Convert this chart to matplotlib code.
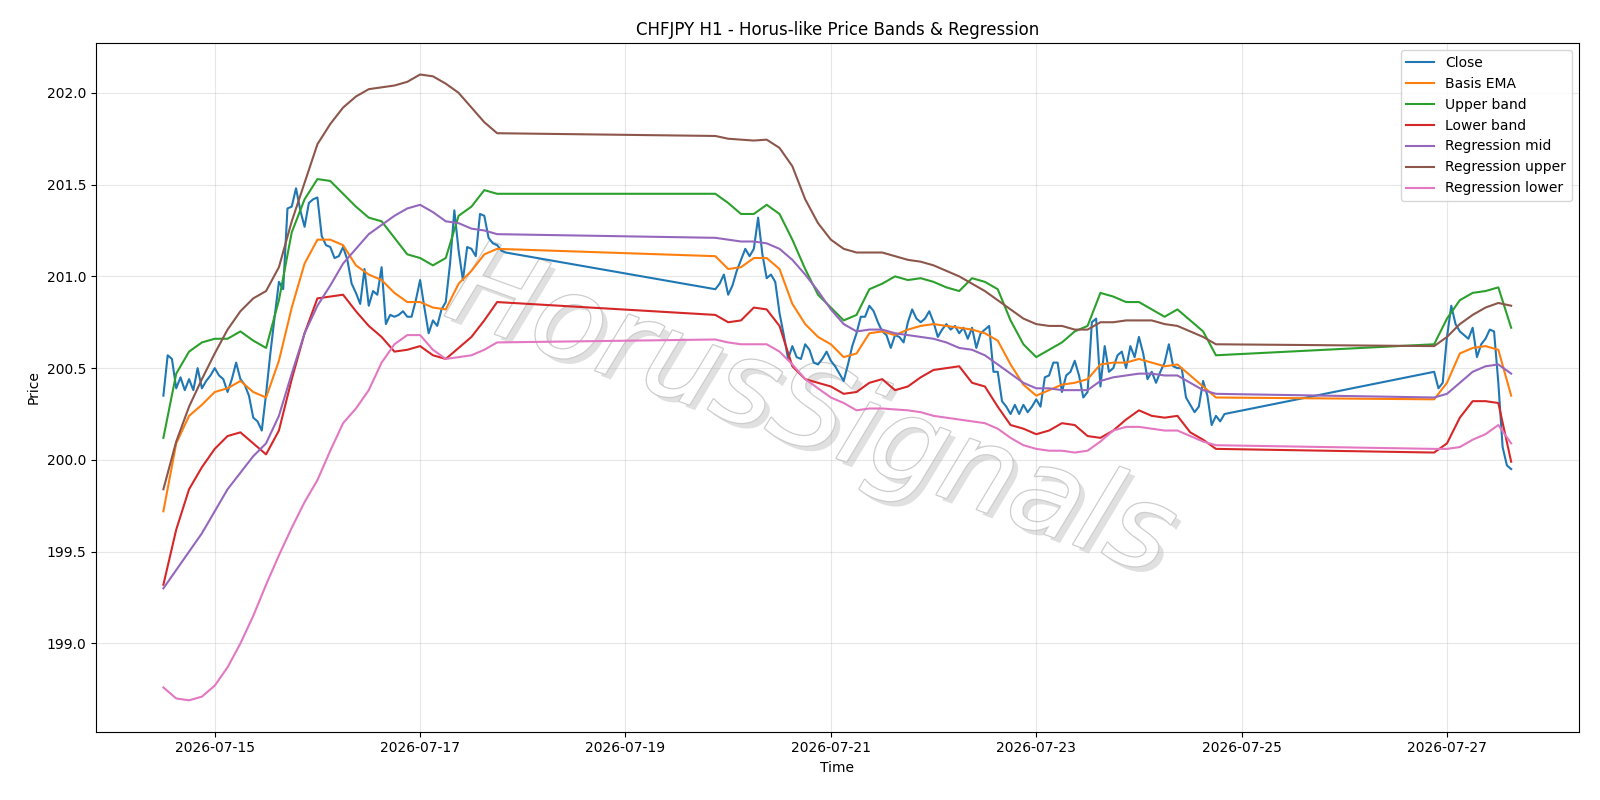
import matplotlib
matplotlib.use('Agg')
import matplotlib.pyplot as plt
import matplotlib.dates as mdates
import matplotlib.patheffects as pe
import pandas as pd

# trading stretches (weekend gaps in between)
spans = [('2026-07-14 12:00', '2026-07-17 20:00'),
         ('2026-07-19 21:00', '2026-07-24 20:00'),
         ('2026-07-26 21:00', '2026-07-27 15:00')]

# hourly close
close_a = [200.35, 200.57, 200.55, 200.39, 200.45, 200.38, 200.44, 200.38, 200.50, 200.39,
           200.43, 200.46, 200.50, 200.46, 200.44, 200.37, 200.44, 200.53, 200.44, 200.41,
           200.35, 200.23, 200.21, 200.16, 200.36, 200.58, 200.78, 200.97, 200.93, 201.37,
           201.38, 201.48, 201.36, 201.27, 201.40, 201.42, 201.43, 201.22, 201.17, 201.16,
           201.10, 201.11, 201.16, 201.09, 200.96, 200.91, 200.85, 201.04, 200.84, 200.92,
           200.90, 201.05, 200.74, 200.79, 200.78, 200.79, 200.81, 200.78, 200.78, 200.87,
           200.98, 200.83, 200.69, 200.76, 200.73, 200.82, 200.86, 201.07, 201.36, 201.14,
           200.98, 201.16, 201.15, 201.11, 201.34, 201.33, 201.21, 201.18, 201.17, 201.14, 201.13]
close_b = [200.93, 200.96, 201.01, 200.90, 200.95, 201.03, 201.09, 201.15, 201.11, 201.15,
           201.32, 201.12, 200.99, 201.01, 200.97, 200.80, 200.68, 200.55, 200.62, 200.56,
           200.55, 200.63, 200.60, 200.53, 200.52, 200.55, 200.59, 200.54, 200.51, 200.47,
           200.43, 200.52, 200.62, 200.69, 200.78, 200.78, 200.84, 200.81, 200.75, 200.70,
           200.68, 200.61, 200.68, 200.67, 200.64, 200.75, 200.82, 200.77, 200.75, 200.77,
           200.81, 200.75, 200.67, 200.71, 200.74, 200.71, 200.73, 200.69, 200.72, 200.66,
           200.72, 200.61, 200.69, 200.71, 200.73, 200.48, 200.48, 200.32, 200.29, 200.25,
           200.30, 200.25, 200.30, 200.26, 200.29, 200.33, 200.29, 200.45, 200.46, 200.53,
           200.53, 200.37, 200.46, 200.48, 200.54, 200.46, 200.34, 200.37, 200.75, 200.77,
           200.40, 200.62, 200.48, 200.50, 200.57, 200.59, 200.50, 200.62, 200.56, 200.67,
           200.58, 200.44, 200.48, 200.42, 200.48, 200.53, 200.63, 200.51, 200.50, 200.50,
           200.34, 200.30, 200.26, 200.29, 200.43, 200.35, 200.19, 200.24, 200.21, 200.25]
close_c = [200.48, 200.39, 200.42, 200.67, 200.84, 200.74, 200.70, 200.68, 200.66, 200.72,
           200.56, 200.63, 200.66, 200.71, 200.70, 200.42, 200.07, 199.97, 199.95]

# band / regression lines, read every 3 hours
ema_a = [199.72, 200.09, 200.24, 200.30, 200.37, 200.39, 200.43, 200.37, 200.34, 200.54,
         200.83, 201.07, 201.20, 201.20, 201.17, 201.06, 201.01, 200.98, 200.91, 200.86,
         200.86, 200.83, 200.82, 200.96, 201.03, 201.12, 201.15]
ema_b = [201.11, 201.04, 201.05, 201.10, 201.10, 201.04, 200.85, 200.74, 200.67, 200.63,
         200.56, 200.58, 200.69, 200.70, 200.68, 200.71, 200.73, 200.74, 200.73, 200.72,
         200.71, 200.69, 200.65, 200.52, 200.41, 200.35, 200.38, 200.41, 200.42, 200.44,
         200.52, 200.53, 200.53, 200.55, 200.53, 200.51, 200.52, 200.46, 200.40, 200.34]
ema_c = [200.33, 200.42, 200.58, 200.61, 200.62, 200.60, 200.35]

upper_a = [200.12, 200.47, 200.59, 200.64, 200.66, 200.66, 200.70, 200.65, 200.61, 200.87,
           201.24, 201.42, 201.53, 201.52, 201.45, 201.38, 201.32, 201.30, 201.21, 201.12,
           201.10, 201.06, 201.10, 201.33, 201.38, 201.47, 201.45]
upper_b = [201.45, 201.40, 201.34, 201.34, 201.39, 201.34, 201.20, 201.04, 200.90, 200.83,
           200.76, 200.79, 200.93, 200.96, 201.00, 200.98, 200.99, 200.97, 200.94, 200.92,
           200.99, 200.97, 200.93, 200.76, 200.63, 200.56, 200.60, 200.64, 200.70, 200.73,
           200.91, 200.89, 200.86, 200.86, 200.82, 200.78, 200.82, 200.76, 200.70, 200.57]
upper_c = [200.63, 200.77, 200.87, 200.91, 200.92, 200.94, 200.72]

lower_a = [199.32, 199.62, 199.84, 199.96, 200.06, 200.13, 200.15, 200.09, 200.03, 200.16,
           200.44, 200.69, 200.88, 200.89, 200.90, 200.81, 200.73, 200.67, 200.59, 200.60,
           200.62, 200.57, 200.55, 200.61, 200.67, 200.76, 200.86]
lower_b = [200.79, 200.75, 200.76, 200.83, 200.82, 200.73, 200.51, 200.44, 200.42, 200.40,
           200.36, 200.37, 200.42, 200.44, 200.38, 200.40, 200.45, 200.49, 200.50, 200.51,
           200.42, 200.40, 200.29, 200.19, 200.17, 200.14, 200.16, 200.20, 200.19, 200.13,
           200.12, 200.16, 200.22, 200.27, 200.24, 200.23, 200.24, 200.15, 200.11, 200.06]
lower_c = [200.04, 200.09, 200.23, 200.32, 200.32, 200.31, 199.99]

reg_mid_a = [199.30, 199.40, 199.50, 199.60, 199.72, 199.84, 199.93, 200.02, 200.09, 200.24,
             200.47, 200.69, 200.84, 200.95, 201.07, 201.15, 201.23, 201.28, 201.33, 201.37,
             201.39, 201.35, 201.30, 201.29, 201.26, 201.25, 201.23]
reg_mid_b = [201.21, 201.20, 201.19, 201.19, 201.18, 201.15, 201.09, 201.01, 200.92, 200.82,
             200.74, 200.70, 200.71, 200.71, 200.69, 200.68, 200.67, 200.66, 200.64, 200.61,
             200.60, 200.57, 200.52, 200.47, 200.42, 200.39, 200.39, 200.38, 200.38, 200.38,
             200.43, 200.45, 200.46, 200.47, 200.47, 200.46, 200.46, 200.42, 200.38, 200.36]
reg_mid_c = [200.34, 200.36, 200.42, 200.48, 200.51, 200.52, 200.47]

reg_up_a = [199.84, 200.10, 200.29, 200.44, 200.58, 200.71, 200.81, 200.88, 200.92, 201.05,
            201.30, 201.51, 201.72, 201.83, 201.92, 201.98, 202.02, 202.03, 202.04, 202.06,
            202.10, 202.09, 202.05, 202.00, 201.92, 201.84, 201.78]
reg_up_b = [201.765, 201.75, 201.745, 201.74, 201.745, 201.70, 201.60, 201.42, 201.29, 201.20,
            201.15, 201.13, 201.13, 201.13, 201.11, 201.09, 201.08, 201.06, 201.03, 201.00,
            200.96, 200.92, 200.87, 200.82, 200.77, 200.74, 200.73, 200.73, 200.71, 200.71,
            200.75, 200.75, 200.76, 200.76, 200.76, 200.74, 200.73, 200.70, 200.67, 200.63]
reg_up_c = [200.62, 200.67, 200.74, 200.79, 200.83, 200.855, 200.84]

reg_lo_a = [198.76, 198.70, 198.69, 198.71, 198.77, 198.87, 199.00, 199.15, 199.32, 199.48,
            199.63, 199.77, 199.89, 200.05, 200.20, 200.28, 200.38, 200.53, 200.63, 200.68,
            200.68, 200.60, 200.55, 200.56, 200.57, 200.60, 200.64]
reg_lo_b = [200.656, 200.64, 200.63, 200.63, 200.63, 200.59, 200.52, 200.44, 200.39, 200.34,
            200.31, 200.27, 200.28, 200.28, 200.275, 200.27, 200.26, 200.24, 200.23, 200.22,
            200.21, 200.20, 200.17, 200.12, 200.08, 200.06, 200.05, 200.05, 200.04, 200.05,
            200.10, 200.16, 200.18, 200.18, 200.17, 200.16, 200.16, 200.13, 200.10, 200.08]
reg_lo_c = [200.06, 200.06, 200.07, 200.11, 200.14, 200.19, 200.09]


def times(freq):
    idx = [pd.date_range(a, b, freq=freq) for a, b in spans]
    return idx[0].append(idx[1:])


if __name__ == '__main__':
    t_close = times('h')
    t_band = times('3h')

    fig, ax = plt.subplots(figsize=(16, 8), dpi=100)

    ax.plot(t_close, close_a + close_b + close_c, label='Close')
    ax.plot(t_band, ema_a + ema_b + ema_c, label='Basis EMA')
    ax.plot(t_band, upper_a + upper_b + upper_c, label='Upper band')
    ax.plot(t_band, lower_a + lower_b + lower_c, label='Lower band')
    ax.plot(t_band, reg_mid_a + reg_mid_b + reg_mid_c, label='Regression mid')
    ax.plot(t_band, reg_up_a + reg_up_b + reg_up_c, label='Regression upper')
    ax.plot(t_band, reg_lo_a + reg_lo_b + reg_lo_c, label='Regression lower')

    # watermark
    ax.text(0.482, 0.462, 'HorusSignals', transform=ax.transAxes, fontsize=84,
            rotation=-20, style='italic', ha='center', va='center', color='white', zorder=0,
            path_effects=[pe.SimplePatchShadow(offset=(4, -4), shadow_rgbFace='black', alpha=0.12),
                          pe.Stroke(linewidth=1.8, foreground='#cdcdcd'),
                          pe.Normal()])

    ax.xaxis.set_major_locator(mdates.DayLocator(bymonthday=range(1, 32, 2)))
    ax.xaxis.set_major_formatter(mdates.DateFormatter('%Y-%m-%d'))
    ax.grid(True, alpha=0.3)
    ax.set_title('CHFJPY H1 - Horus-like Price Bands & Regression')
    ax.set_xlabel('Time')
    ax.set_ylabel('Price')
    ax.legend(loc='upper right')

    fig.subplots_adjust(left=0.06, right=0.9866, top=0.946, bottom=0.0855)
    fig.savefig('out.png')
